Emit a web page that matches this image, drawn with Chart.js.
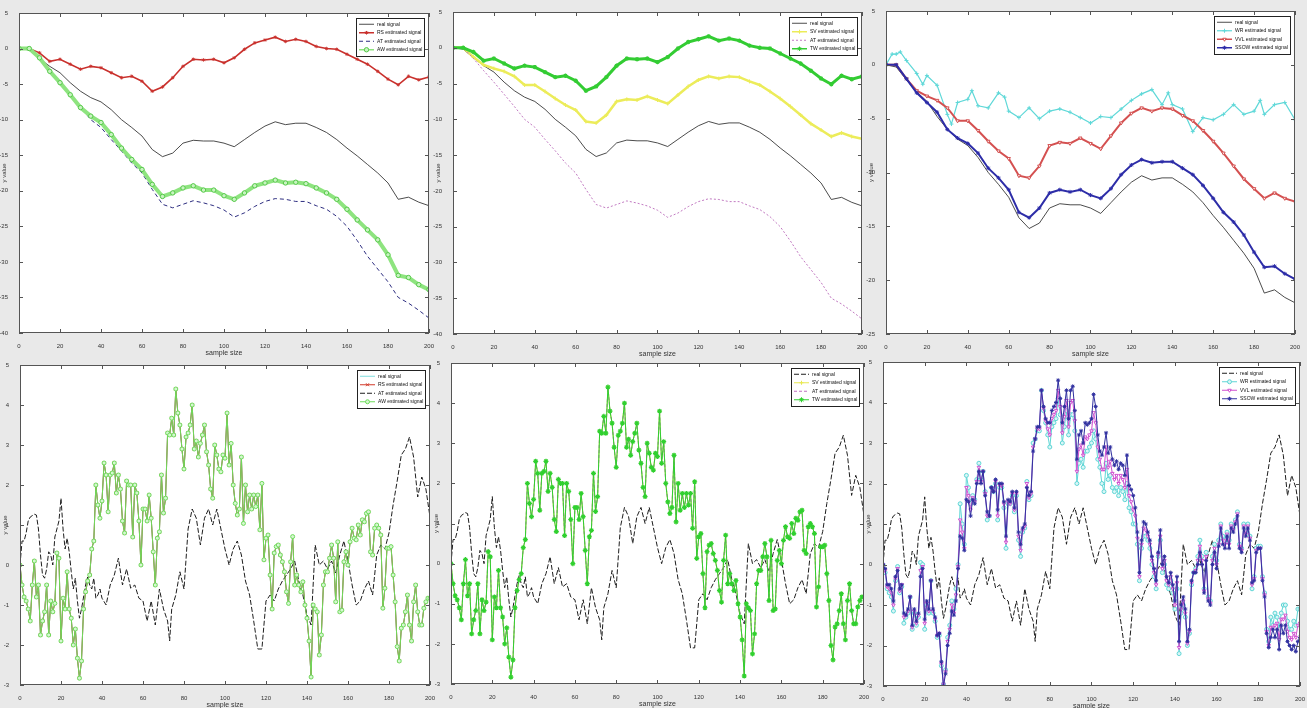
<!DOCTYPE html>
<html>
<head>
<meta charset="utf-8">
<script src="https://cdn.jsdelivr.net/npm/chart.js@4.4.1/dist/chart.umd.min.js"></script>
<style>
  html, body { margin: 0; padding: 0; }
  body { width: 1307px; height: 708px; background: #e9e9e9; position: relative; overflow: hidden; }
  canvas { position: absolute; }
</style>
</head>
<body>
<canvas id="p1" width="437" height="355" style="left:-1px;top:3px"></canvas>
<canvas id="p2" width="436" height="357" style="left:433px;top:2px"></canvas>
<canvas id="p3" width="436" height="358" style="left:866px;top:1px"></canvas>
<canvas id="p4" width="437" height="355" style="left:0px;top:355px"></canvas>
<canvas id="p5" width="440" height="356" style="left:431px;top:353px"></canvas>
<canvas id="p6" width="444" height="359" style="left:863px;top:352px"></canvas>
<script>
// ---- top row (cumulative signals), sampled every 5 samples ----
const xTop = [0,5,10,15,20,25,30,35,40,45,50,55,60,65,70,75,80,85,90,95,100,105,110,115,120,125,130,135,140,145,150,155,160,165,170,175,180,185,190,195,200];
const realTop = [0,-0.2,-1.4,-2.5,-3.4,-4.8,-6.0,-6.9,-7.5,-8.6,-10,-11.1,-12.3,-14.2,-15.2,-14.7,-13.3,-12.9,-13,-13.0,-13.3,-13.8,-12.8,-11.8,-10.9,-10.3,-10.7,-10.5,-10.5,-11.1,-11.8,-12.8,-14,-15.1,-16.3,-17.5,-18.9,-21.2,-20.9,-21.6,-22.1];
const rsTop = [0,0,-0.6,-1.8,-1.5,-2.2,-2.9,-2.5,-2.7,-3.4,-4.1,-3.9,-4.6,-6.0,-5.4,-4.1,-2.5,-1.5,-1.6,-1.5,-2.0,-1.3,-0.1,0.8,1.2,1.6,1.0,1.3,1.0,0.3,0,-0.1,-0.8,-1.5,-2.2,-3.2,-4.3,-5.1,-3.9,-4.4,-4.0];
const atTop = [0,0,-1.5,-3.2,-4.8,-6.5,-8.2,-10,-11.1,-12.8,-14.4,-16.1,-17.5,-19.8,-21.9,-22.4,-21.9,-21.4,-21.7,-22.1,-22.7,-23.7,-23.1,-22.2,-21.5,-21.1,-21.2,-21.5,-21.5,-22.1,-22.6,-23.6,-25,-27,-29.2,-31,-32.8,-35,-35.8,-36.8,-37.9];
const awTop = [0,0,-1.3,-3.2,-4.8,-6.5,-8.3,-9.5,-10.4,-12.1,-14,-15.6,-17,-19.1,-20.8,-20.3,-19.6,-19.3,-19.9,-19.9,-20.7,-21.2,-20.3,-19.3,-18.9,-18.5,-18.9,-18.8,-19,-19.6,-20.3,-21.2,-22.6,-24.1,-25.5,-26.9,-29,-31.9,-32.2,-33.2,-33.9];
const svTop = [0,0,-1.3,-2.4,-2.9,-3.3,-4,-5.2,-5.2,-6.1,-7.1,-8,-8.7,-10.3,-10.5,-9.4,-7.5,-7.2,-7.3,-6.8,-7.3,-7.8,-6.6,-5.4,-4.5,-4.0,-4.3,-4.0,-4.1,-4.7,-5.2,-6.1,-7.1,-8.2,-9.4,-10.6,-11.5,-12.4,-11.9,-12.4,-12.7];
const ssowTop = [0,0,-1.3,-2.6,-3.5,-4.4,-6,-6.8,-7.3,-8.2,-9.6,-10.5,-11.6,-13.7,-14.2,-13.3,-11.9,-11.6,-11.8,-11.6,-12.1,-12.4,-11.5,-10.2,-9.3,-8.8,-9.1,-9.0,-9.0,-9.6,-10.2,-11.2,-12.4,-13.7,-14.6,-15.8,-17.4,-18.8,-18.7,-19.4,-19.9];
const wrTopX = [0,3,5,7,10,15,18,20,25,30,32,35,40,42,45,50,55,58,60,65,70,75,80,85,90,95,100,105,110,115,120,125,130,135,138,140,145,150,155,160,165,170,175,180,183,185,190,195,200];
const wrTop = [0,1.0,1.0,1.2,0.4,-0.8,-1.8,-1.0,-1.9,-4.6,-5.5,-3.5,-3.2,-2.4,-3.8,-4,-2.6,-3,-4.3,-4.9,-4,-5,-4.3,-4.1,-4.4,-4.9,-5.4,-4.8,-4.9,-4.1,-3.3,-2.7,-2.3,-3.7,-2.6,-3.7,-4.1,-6.2,-4.9,-5.1,-4.6,-3.7,-4.6,-4.3,-3.3,-4.6,-3.7,-3.5,-5.1];

// ---- bottom row (fluctuating signals) ----
const realBotX = [0,1,2,3,4,5,7,8,9,10,11,12,13,14,15,16,17,18,19,20,21,22,23,24,25,26,27,28,29,30,31,32,33,34,35,36,37,38,39,40,
  42,44,46,48,50,52,54,56,58,60,62,64,66,68,70,72,73,74,76,78,80,82,84,86,88,90,92,94,96,98,100,102,104,106,108,110,112,114,116,118,
  120,122,124,126,128,130,132,134,136,138,140,142,144,146,148,150,152,154,156,158,160,162,164,166,168,170,172,174,176,178,180,182,184,186,188,190,192,194,196,198,200];
const realBot = [0,0.6,0.6,0.8,1.1,1.2,1.27,1.25,0.9,0.25,-0.25,-0.33,-0.1,0.33,0.25,0,0.7,0.9,1.1,1.67,0.9,0.4,0.67,0.33,-0.17,-0.6,-0.33,-0.9,-1.33,-1.1,-0.8,-0.5,-0.3,-0.5,-0.6,-0.33,-0.83,-0.75,-0.6,-0.83,
  -1.0,-0.5,-0.25,0.17,-0.5,-0.1,-0.58,-0.5,-0.83,-0.9,-1.4,-0.9,-1.5,-0.6,-1.1,-1.4,-1.9,-1.1,-0.75,-0.17,-0.6,0.9,1.4,1.17,0.5,1.17,1.4,1.0,1.4,0.9,0.4,0,0.4,0.6,0.25,-0.4,-0.75,-1.4,-2.1,-2.1,
  -0.9,-0.75,-0.9,-0.6,-0.4,-0.25,-0.1,0.1,-0.4,-0.75,-1.25,-1.5,0.5,0,0.1,-0.1,0.1,-0.2,0.25,0.6,0.1,-0.5,-1.0,-0.9,-0.6,-0.4,-0.75,0.25,0.5,0.4,0.8,1.5,2.1,2.75,2.9,3.2,2.7,1.7,2.2,1.9,1.2];
// estimated signals, one value per sample 0..200
const estBot = [
  0,-0.5,-0.8,-0.9,-1.1,-1.4,-0.5,0.1,-0.8,-0.5,
  -1.75,-1.4,-1.17,-0.5,-1.75,-0.9,-1.17,-0.96,0.3,0.17,
  -1.9,-0.83,-1.1,-0.17,-1.1,-1.33,-2.0,-1.6,-2.33,-2.83,
  -2.4,-1.1,-0.67,-0.4,-0.25,0.4,0.6,2.0,1.5,1.17,
  1.6,2.55,2.25,1.33,2.25,2.3,2.55,1.8,2.25,1.9,
  1.1,0.8,2.1,2.0,2.0,0.7,2.0,1.8,1.1,0,
  1.4,1.4,1.1,1.75,1.17,0.33,-0.5,0.67,0.83,2.25,
  1.3,1.67,3.3,3.25,3.67,3.25,4.4,3.8,3.5,2.9,
  2.4,3.2,3.3,3.5,4.0,2.9,3.1,2.7,3.04,3.25,
  3.5,2.83,2.5,1.9,1.67,3.0,2.75,2.4,2.33,2.75,
  2.67,3.8,2.5,3.04,2.0,1.54,1.25,1.4,2.7,1.04,
  2.0,1.33,1.75,1.4,1.75,1.46,1.75,0.88,2.04,0.13,
  0.67,0.75,-0.25,-1.1,0.3,0.46,0.5,0.25,0.08,-0.17,
  -0.67,-0.96,0.08,0.71,-0.5,-0.25,-0.5,-0.67,-0.42,-1.0,
  -1.33,-1.9,-2.8,-1.0,-1.1,-1.17,-2.25,-1.75,-0.5,-0.17,
  -0.17,0.17,0.5,0.17,-0.92,0.58,-1.17,-1.13,0.08,0.33,
  0,0.58,0.92,0.67,0.63,1.0,0.75,1.13,1.08,1.29,
  1.33,0.33,0.25,0.92,1.0,0.92,0.75,-1.08,-0.58,0.42,
  0.42,0.46,-0.25,-0.92,-2.04,-2.4,-1.58,-1.5,-1.17,-0.75,
  -1.5,-1.9,-0.92,-0.5,-1.17,-1.5,-1.5,-1.08,-0.92,-0.83,
  -0.83];
const wrBot = [
  0,-0.2,-0.6,-0.7,-0.8,-1.15,-0.4,-0.05,-0.7,-0.55,
  -1.45,-1.3,-1.2,-0.8,-1.6,-1.2,-1.5,-1.3,0.05,0.0,
  -1.6,-1.0,-1.2,-0.4,-1.2,-1.4,-1.8,-1.75,-2.5,-2.95,
  -2.6,-1.8,-1.5,-0.9,-1.1,-0.6,0.0,1.5,1.0,0.5,
  2.2,1.9,1.5,1.7,1.6,2.1,2.5,2.1,2.3,1.8,
  1.1,1.2,1.9,1.8,2.0,1.1,1.9,1.9,1.4,0.4,
  1.5,1.5,1.7,1.3,1.7,0.6,0.2,0.8,0.9,2.05,
  1.6,1.7,3.0,3.1,3.3,3.3,4.3,3.8,3.5,3.2,
  2.9,3.4,3.5,3.6,4.1,3.7,3.0,3.4,3.8,3.2,
  3.7,3.7,3.3,2.0,2.5,2.6,2.4,2.8,2.8,2.9,
  3.0,3.3,3.1,2.6,2.4,2.0,1.8,2.5,2.1,2.2,
  1.9,1.8,1.9,1.7,1.9,1.8,1.6,2.0,1.4,1.3,
  1.0,1.0,0.5,-0.4,0.4,0.7,0.7,0.6,0.4,0.0,
  -0.3,-0.6,0.2,0.6,-0.2,0.0,-0.5,-0.6,-0.4,-0.7,
  -1.1,-0.6,-2.2,-1.2,-1.0,-1.3,-2.0,-1.7,-0.5,-0.2,
  -0.1,0.2,0.6,0.2,-0.6,0.3,-0.8,-0.9,0.2,0.5,
  0.1,0.6,1.0,0.7,0.6,0.8,0.6,1.0,0.9,1.1,
  1.3,0.5,0.4,1.0,0.8,1.0,0.7,-0.6,-0.3,0.4,
  0.45,0.45,-0.3,-0.7,-1.6,-1.9,-1.3,-1.5,-1.2,-1.3,
  -1.6,-1.2,-1.0,-1.0,-1.4,-1.6,-1.6,-1.4,-1.5,-1.1,
  -1.1];
const vvlBot = [
  0,-0.15,-0.55,-0.6,-0.7,-1.0,-0.35,-0.1,-0.65,-0.5,
  -1.3,-1.25,-1.15,-0.8,-1.55,-1.15,-1.45,-1.25,-0.15,-0.05,
  -1.45,-0.95,-1.15,-0.4,-1.15,-1.35,-1.75,-1.7,-2.45,-2.95,
  -2.65,-1.9,-1.6,-1.0,-1.2,-0.75,-0.05,1.1,0.8,0.4,
  1.9,1.7,1.35,1.65,1.55,2.05,2.4,2.05,2.3,1.75,
  1.2,1.2,1.9,1.8,2.05,1.2,1.95,1.95,1.5,0.55,
  1.55,1.5,1.75,1.35,1.75,0.7,0.35,0.85,0.95,2.0,
  1.65,1.75,2.9,3.1,3.35,3.35,4.3,3.85,3.55,3.35,
  3.2,3.6,3.7,3.8,4.3,3.9,3.25,3.65,4.05,3.4,
  4.0,4.05,3.55,2.3,2.85,2.95,2.7,3.15,3.1,3.2,
  3.3,3.75,3.5,2.9,2.6,2.35,2.35,2.9,2.4,2.55,
  2.25,2.1,2.2,2.0,2.2,2.1,1.9,2.35,1.7,1.55,
  1.35,1.2,0.65,-0.3,0.5,0.9,0.85,0.7,0.5,0.1,
  -0.2,-0.5,0.25,0.7,-0.1,0.1,-0.4,-0.5,-0.3,-0.6,
  -1.0,-0.45,-2.05,-1.1,-0.9,-1.2,-1.95,-1.65,-0.45,-0.2,
  -0.15,0.1,0.45,0.1,-0.65,0.2,-0.85,-0.95,0.1,0.4,
  0.0,0.5,0.95,0.6,0.5,0.75,0.5,0.95,0.85,1.05,
  1.25,0.45,0.35,0.95,0.75,0.95,0.65,-0.5,-0.35,0.35,
  0.4,0.4,-0.35,-0.75,-1.65,-2.0,-1.55,-1.55,-1.5,-1.45,
  -1.85,-1.35,-1.35,-1.25,-1.65,-1.8,-1.85,-1.7,-1.8,-1.5,
  -1.45];
const ssowBot = [
  0,-0.1,-0.5,-0.5,-0.6,-0.9,-0.3,-0.15,-0.6,-0.5,
  -1.2,-1.25,-1.1,-0.8,-1.5,-1.1,-1.4,-1.2,-0.3,-0.1,
  -1.35,-0.9,-1.1,-0.4,-1.1,-1.3,-1.75,-1.7,-2.4,-3.0,
  -2.7,-2.0,-1.7,-1.15,-1.25,-0.9,-0.1,0.7,0.65,0.35,
  1.6,1.55,1.2,1.6,1.5,2.0,2.3,2.0,2.3,1.7,
  1.3,1.2,1.9,1.8,2.1,1.35,2.0,2.0,1.55,0.7,
  1.6,1.55,1.8,1.4,1.8,0.8,0.5,0.9,1.0,1.9,
  1.7,1.8,2.8,3.1,3.4,3.4,4.3,3.9,3.6,3.5,
  3.5,3.8,3.9,4.0,4.55,4.1,3.5,3.9,4.3,3.6,
  4.3,4.4,3.8,2.6,3.2,3.3,3.0,3.5,3.45,3.5,
  3.6,4.2,3.9,3.2,2.8,2.7,2.9,3.25,2.75,2.9,
  2.6,2.45,2.55,2.35,2.5,2.45,2.2,2.7,1.95,1.85,
  1.7,1.4,0.8,-0.2,0.6,1.05,1.0,0.8,0.6,0.2,
  -0.1,-0.4,0.3,0.85,0.0,0.2,-0.3,-0.45,-0.2,-0.5,
  -0.9,-0.3,-1.9,-1.0,-0.8,-1.1,-1.9,-1.6,-0.4,-0.2,
  -0.2,0.0,0.3,0.0,-0.7,0.1,-0.9,-1.0,0.0,0.3,
  -0.1,0.45,0.9,0.5,0.4,0.7,0.4,0.9,0.8,1.0,
  1.2,0.4,0.3,0.9,0.7,0.9,0.6,-0.45,-0.4,0.3,
  0.4,0.4,-0.4,-0.8,-1.7,-2.05,-1.8,-1.6,-1.8,-1.6,
  -2.1,-1.5,-1.7,-1.5,-1.9,-2.0,-2.1,-2.0,-2.15,-1.9,
  -1.8];

const pts = (xs, ys) => ys.map((y, i) => ({ x: xs[i], y }));
const seq = ys => ys.map((y, i) => ({ x: i, y }));

Chart.defaults.font.family = '"Liberation Sans", Arial, sans-serif';

// white axes box, inward ticks, boxed legend (MATLAB look)
const matlabLook = {
  id: 'matlabLook',
  beforeDraw(chart) {
    const { ctx, chartArea: a } = chart;
    ctx.save();
    ctx.fillStyle = '#fff';
    ctx.fillRect(a.left, a.top, a.right - a.left, a.bottom - a.top);
    ctx.restore();
  },
  afterDraw(chart) {
    const { ctx, chartArea: a, scales } = chart;
    ctx.save();
    ctx.strokeStyle = '#555';
    ctx.lineWidth = 1;
    ctx.strokeRect(a.left + 0.5, a.top + 0.5, a.right - a.left - 1, a.bottom - a.top - 1);
    ctx.beginPath();
    scales.x.ticks.forEach(t => {
      const p = Math.round(scales.x.getPixelForValue(t.value)) + 0.5;
      ctx.moveTo(p, a.bottom); ctx.lineTo(p, a.bottom - 4);
      ctx.moveTo(p, a.top); ctx.lineTo(p, a.top + 4);
    });
    scales.y.ticks.forEach(t => {
      const p = Math.round(scales.y.getPixelForValue(t.value)) + 0.5;
      ctx.moveTo(a.left, p); ctx.lineTo(a.left + 4, p);
      ctx.moveTo(a.right, p); ctx.lineTo(a.right - 4, p);
    });
    ctx.stroke();

    const ds = chart.data.datasets;
    ctx.font = '5px "Liberation Sans", Arial, sans-serif';
    const tw = Math.max(...ds.map(d => ctx.measureText(d.label).width));
    const rowH = 8.5;
    const w = Math.round(23 + tw), h = Math.round(ds.length * rowH + 4);
    const x0 = Math.round(a.right - 5 - w), y0 = Math.round(a.top + 5);
    ctx.fillStyle = '#fff';
    ctx.fillRect(x0, y0, w, h);
    ctx.strokeStyle = '#222';
    ctx.lineWidth = 1;
    ctx.strokeRect(x0 + 0.5, y0 + 0.5, w, h);
    ds.forEach((d, i) => {
      const y = y0 + 2 + rowH * i + rowH / 2;
      ctx.setLineDash(d.borderDash || []);
      ctx.strokeStyle = d.borderColor;
      ctx.lineWidth = Math.min(d.borderWidth, 1.5);
      ctx.beginPath(); ctx.moveTo(x0 + 3, y); ctx.lineTo(x0 + 18, y); ctx.stroke();
      ctx.setLineDash([]);
      if (d.pointRadius && Chart.helpers && Chart.helpers.drawPoint) {
        ctx.strokeStyle = d.pointBorderColor || d.borderColor;
        ctx.fillStyle = d.pointBackgroundColor || d.borderColor;
        ctx.lineWidth = 1;
        Chart.helpers.drawPoint(ctx, { pointStyle: d.pointStyle, radius: d.pointRadius, rotation: d.pointRotation || 0, borderWidth: 1 }, x0 + 10.5, y);
      }
      ctx.fillStyle = '#111';
      ctx.textBaseline = 'middle';
      ctx.fillText(d.label, x0 + 21, y);
    });
    ctx.restore();
  }
};

function series(label, data, color, extra) {
  return Object.assign({
    label, data, borderColor: color, backgroundColor: color,
    borderWidth: 1, pointRadius: 0, pointHoverRadius: 0, fill: false, tension: 0
  }, extra || {});
}

function makeChart(id, datasets, yMin, yMax, yStep) {
  datasets.forEach((d, i) => { d.order = -i; });
  const tickFont = { size: 6 };
  return new Chart(document.getElementById(id), {
    type: 'line',
    data: { datasets },
    options: {
      responsive: false,
      animation: false,
      events: [],
      layout: { padding: { top: 10, right: 4, left: 0, bottom: 0 } },
      plugins: { legend: { display: false }, tooltip: { enabled: false } },
      scales: {
        x: {
          type: 'linear', min: 0, max: 200,
          ticks: { stepSize: 20, font: tickFont, color: '#333', padding: 2, maxRotation: 0 },
          grid: { display: false }, border: { display: false },
          title: { display: true, text: 'sample size', font: { size: 7 }, color: '#333', padding: { top: 0, bottom: 1 } },
          afterFit: s => { s.height = 25; }
        },
        y: {
          type: 'linear', min: yMin, max: yMax,
          ticks: { stepSize: yStep, font: tickFont, color: '#333', padding: 3 },
          grid: { display: false }, border: { display: false },
          title: { display: true, text: 'y value', font: { size: 6 }, color: '#333', padding: { top: 2, bottom: 0 } },
          afterFit: s => { s.width = 20; }
        }
      }
    },
    plugins: [matlabLook]
  });
}

const black = '#1e1e1e';

makeChart('p1', [
  series('real signal', pts(xTop, realTop), black, { borderWidth: 0.8 }),
  series('RS estimated signal', pts(xTop, rsTop), '#c9302c', { borderWidth: 1.6, pointStyle: 'star', pointRadius: 1.8, pointBorderWidth: 0.8 }),
  series('AT estimated signal', pts(xTop, atTop), '#2d2d80', { borderDash: [4, 3] }),
  series('AW estimated signal', pts(xTop, awTop), '#8ee47f', { borderWidth: 4, pointStyle: 'circle', pointRadius: 2.2, pointBorderColor: '#56c94a', pointBackgroundColor: '#c8f4c0', pointBorderWidth: 1 })
], -40, 5, 5);

makeChart('p2', [
  series('real signal', pts(xTop, realTop), black, { borderWidth: 0.8 }),
  series('SV estimated signal', pts(xTop, svTop), '#ecec5a', { borderWidth: 2.5, pointStyle: 'cross', pointRadius: 2, pointBorderWidth: 1 }),
  series('AT estimated signal', pts(xTop, atTop), '#c27ac2', { borderDash: [2, 2] }),
  series('TW estimated signal', pts(xTop, rsTop), '#33cc33', { borderWidth: 3, pointStyle: 'star', pointRadius: 2.2, pointBorderWidth: 1.2 })
], -40, 5, 5);

makeChart('p3', [
  series('real signal', pts(xTop, realTop), black, { borderWidth: 0.8 }),
  series('WR estimated signal', pts(wrTopX, wrTop), '#5fd8d8', { borderWidth: 1.2, pointStyle: 'cross', pointRadius: 2, pointBorderWidth: 1 }),
  series('VVL estimated signal', pts(xTop, svTop), '#d45050', { borderWidth: 2, pointStyle: 'triangle', pointRotation: 180, pointRadius: 2, pointBorderWidth: 1, pointBackgroundColor: '#fff' }),
  series('SSOW estimated signal', pts(xTop, ssowTop), '#2d2da8', { borderWidth: 2, pointStyle: 'star', pointRadius: 2, pointBorderWidth: 1 })
], -25, 5, 5);

makeChart('p4', [
  series('real signal', seq(estBot), '#7fdede', { borderWidth: 1 }),
  series('RS estimated signal', seq(estBot), '#d23a2a', { pointStyle: 'crossRot', pointRadius: 2, pointBorderWidth: 1 }),
  series('AT estimated signal', pts(realBotX, realBot), black, { borderDash: [5, 2] }),
  series('AW estimated signal', seq(estBot), '#6edc5c', { pointStyle: 'circle', pointRadius: 2, pointBorderWidth: 1, pointBackgroundColor: '#d6f7d0' })
], -3, 5, 1);

makeChart('p5', [
  series('real signal', pts(realBotX, realBot), black, { borderDash: [5, 2] }),
  series('SV estimated signal', seq(estBot), '#e8e850', { pointStyle: 'cross', pointRadius: 2, pointBorderWidth: 1 }),
  series('AT estimated signal', seq(estBot), '#c070c0', { borderDash: [3, 2] }),
  series('TW estimated signal', seq(estBot), '#30d030', { pointStyle: 'star', pointRadius: 2.5, pointBorderWidth: 1.2 })
], -3, 5, 1);

makeChart('p6', [
  series('real signal', pts(realBotX, realBot), black, { borderDash: [5, 2] }),
  series('WR estimated signal', seq(wrBot), '#5fd6d6', { pointStyle: 'circle', pointRadius: 2, pointBorderWidth: 1, pointBackgroundColor: '#d9f6f6' }),
  series('VVL estimated signal', seq(vvlBot), '#d050d0', { pointStyle: 'triangle', pointRotation: 180, pointRadius: 2, pointBorderWidth: 1, pointBackgroundColor: '#fff' }),
  series('SSOW estimated signal', seq(ssowBot), '#3030a0', { pointStyle: 'star', pointRadius: 2, pointBorderWidth: 1 })
], -3, 5, 1);
</script>
</body>
</html>
